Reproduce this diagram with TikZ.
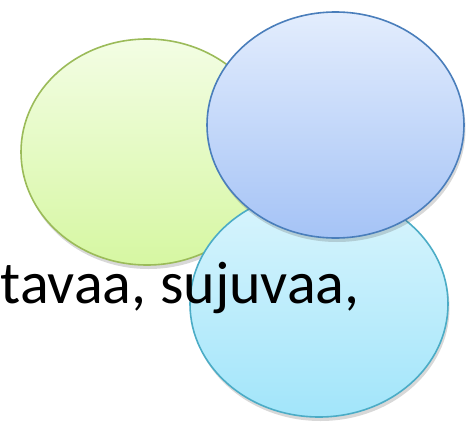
\documentclass[tikz,border=0pt]{standalone}
\usepackage{fontspec}
\setmainfont{Carlito}
\usetikzlibrary{shapes.geometric,shadows}
\definecolor{gline}{HTML}{9BBB59}
\definecolor{gtop}{HTML}{F3FDE4}
\definecolor{gbot}{HTML}{D6F7A2}
\definecolor{bline}{HTML}{4A7EBB}
\definecolor{btop}{HTML}{E3EDFD}
\definecolor{bbot}{HTML}{A5C3F6}
\definecolor{cline}{HTML}{4BACC6}
\definecolor{ctop}{HTML}{DAF5FD}
\definecolor{cbot}{HTML}{A2E5FA}
\tikzset{
  blob/.style={ellipse, inner sep=0pt, line width=1.6pt,
    drop shadow={shadow xshift=1.5pt, shadow yshift=-4pt, opacity=0.22, fill=black!70}},
}
\begin{document}
\begin{tikzpicture}[x=1pt,y=-1pt]
\useasboundingbox (0,0) rectangle (466,423);
\node[blob, draw=gline, top color=gtop, bottom color=gbot,
      minimum width=252pt, minimum height=226pt] (green) at (147,152) {};
\node[blob, draw=cline, top color=ctop, bottom color=cbot,
      minimum width=258pt, minimum height=226pt] (cyan) at (319,304) {};
\node[blob, draw=bline, top color=btop, bottom color=bbot,
      minimum width=257pt, minimum height=226pt] (blue) at (335.5,125) {};
\node[anchor=base west, inner sep=0pt, font=\fontsize{60}{72}\selectfont] (txt) at (0.5,303) {tavaa, sujuvaa,};
\end{tikzpicture}
\end{document}
